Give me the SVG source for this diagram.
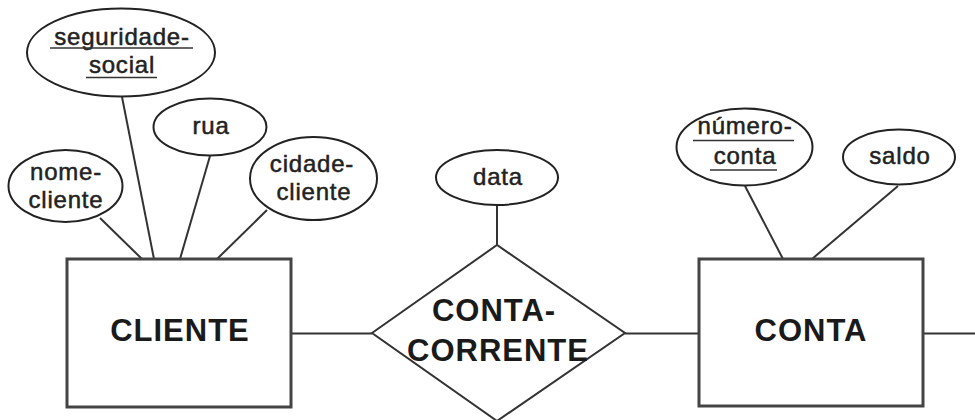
<svg xmlns="http://www.w3.org/2000/svg" width="975" height="420" viewBox="0 0 975 420">
<style>
.bg{fill:#fff}
.ent{fill:#fff;stroke:#444;stroke-width:3}
.rel{fill:#fff;stroke:#333;stroke-width:2}
.att{fill:#fff;stroke:#222;stroke-width:2}
.ln{stroke:#333;stroke-width:2;fill:none}
.ul{stroke:#333;stroke-width:1.6}
.t{font-family:"Liberation Sans",Arial,sans-serif;font-size:24px;letter-spacing:0.8px;fill:#222;stroke:#222;stroke-width:0.5px;text-anchor:middle}
.b{font-family:"Liberation Sans",Arial,sans-serif;font-size:31px;font-weight:bold;letter-spacing:1px;fill:#1a1a1a;text-anchor:middle}
</style>
<rect class="bg" width="975" height="420"/>
<g id="connectors">
<line class="ln" x1="122" y1="97" x2="154" y2="259"/>
<line class="ln" x1="210" y1="156" x2="180" y2="259"/>
<line class="ln" x1="100" y1="218" x2="142" y2="259"/>
<line class="ln" x1="267" y1="210" x2="217" y2="259"/>
<line class="ln" x1="745" y1="186" x2="783" y2="259"/>
<line class="ln" x1="898" y1="186" x2="812" y2="259"/>
<line class="ln" x1="497" y1="205" x2="497" y2="245"/>
<line class="ln" x1="291" y1="333.5" x2="372" y2="333.5"/>
<line class="ln" x1="625" y1="333.5" x2="699" y2="333.5"/>
<line class="ln" x1="923" y1="333.5" x2="975" y2="333.5"/>
</g>
<g id="cliente">
<rect class="ent" x="67" y="259" width="224" height="148"/>
<text class="b" x="180" y="341">CLIENTE</text>
</g>
<g id="conta">
<rect class="ent" x="699" y="259" width="224" height="147"/>
<text class="b" x="811" y="341">CONTA</text>
</g>
<g id="conta-corrente">
<polygon class="rel" points="372,333 497,245 625,333 497,421"/>
<text class="b" x="494" y="321">CONTA-</text>
<text class="b" x="498" y="361">CORRENTE</text>
</g>
<g id="seguridade-social">
<ellipse class="att" cx="121" cy="52.5" rx="94" ry="44"/>
<text class="t" x="122" y="45">seguridade-</text>
<line class="ul" x1="50" y1="48" x2="193" y2="48"/>
<text class="t" x="122" y="72.5">social</text>
<line class="ul" x1="86" y1="77.5" x2="157" y2="77.5"/>
</g>
<g id="rua">
<ellipse class="att" cx="210" cy="127" rx="56.5" ry="28.5"/>
<text class="t" x="211" y="134">rua</text>
</g>
<g id="nome-cliente">
<ellipse class="att" cx="65.5" cy="186" rx="57" ry="36"/>
<text class="t" x="66" y="180">nome-</text>
<text class="t" x="66" y="208">cliente</text>
</g>
<g id="cidade-cliente">
<ellipse class="att" cx="313.5" cy="178.5" rx="63.5" ry="41.5"/>
<text class="t" x="312" y="172">cidade-</text>
<text class="t" x="314" y="200">cliente</text>
</g>
<g id="data">
<ellipse class="att" cx="497" cy="177.5" rx="61" ry="27.5"/>
<text class="t" x="498" y="185">data</text>
</g>
<g id="numero-conta">
<ellipse class="att" cx="744.5" cy="147" rx="68" ry="38.5"/>
<text class="t" x="745" y="134">número-</text>
<line class="ul" x1="693" y1="140.5" x2="794" y2="140.5"/>
<text class="t" x="745" y="164">conta</text>
<line class="ul" x1="710" y1="170" x2="777" y2="170"/>
</g>
<g id="saldo">
<ellipse class="att" cx="899" cy="157" rx="56" ry="27.5"/>
<text class="t" x="900" y="164">saldo</text>
</g>
</svg>
